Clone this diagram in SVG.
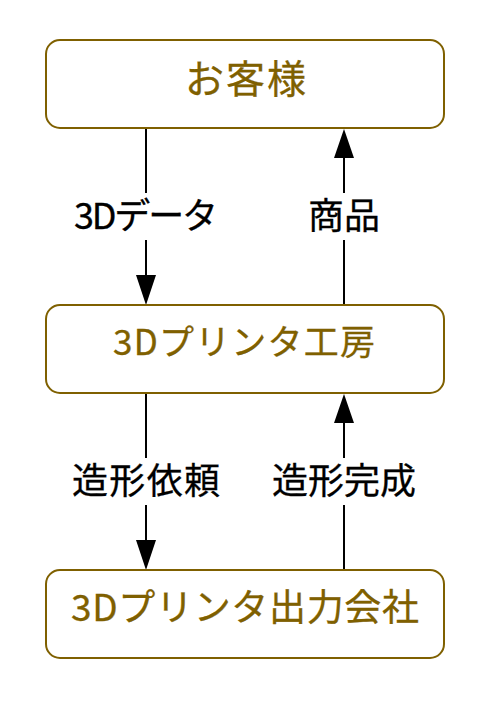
<svg xmlns="http://www.w3.org/2000/svg" width="500" height="710" viewBox="0 0 500 710">
<style>
.box{fill:#ffffff;stroke:#7f6000;stroke-width:2}
.nt{font-family:"Noto Sans CJK JP","Noto Sans",sans-serif;font-size:36px;fill:#7f6000;stroke:#7f6000;stroke-width:0.3;text-anchor:middle}
.lt{font-family:"Noto Sans CJK JP","Noto Sans",sans-serif;font-size:36px;fill:#000000;stroke:#000000;stroke-width:0.3;text-anchor:middle}
.ln{stroke:#000000;stroke-width:2;fill:none}
.ah{fill:#000000}
</style>
<rect width="500" height="710" fill="#ffffff"/>
<g id="connectors">
<line class="ln" x1="146" y1="129" x2="146" y2="193"/>
<line class="ln" x1="146" y1="240" x2="146" y2="276"/>
<polygon class="ah" points="136,275 156,275 146,305"/>
<line class="ln" x1="344" y1="305" x2="344" y2="240"/>
<line class="ln" x1="344" y1="193" x2="344" y2="157"/>
<polygon class="ah" points="334,158 354,158 344,129"/>
<line class="ln" x1="146" y1="394" x2="146" y2="458"/>
<line class="ln" x1="146" y1="505" x2="146" y2="541"/>
<polygon class="ah" points="136,540 156,540 146,570"/>
<line class="ln" x1="344" y1="570" x2="344" y2="505"/>
<line class="ln" x1="344" y1="458" x2="344" y2="422"/>
<polygon class="ah" points="334,423 354,423 344,394"/>
<text class="lt" x="146" y="229" textLength="144">3Dデータ</text>
<text class="lt" x="344" y="229" textLength="72">商品</text>
<text class="lt" x="146" y="494" textLength="148">造形依頼</text>
<text class="lt" x="344" y="494" textLength="144">造形完成</text>
</g>
<g id="node-customer">
<rect class="box" x="46" y="40" width="398" height="88" rx="14"/>
<text class="nt" x="245.5" y="93" style="font-size:39px" textLength="121">お客様</text>
</g>
<g id="node-workshop">
<rect class="box" x="46" y="305" width="398" height="88" rx="14"/>
<text class="nt" x="244" y="355" style="font-size:35px" textLength="262">3Dプリンタ工房</text>
</g>
<g id="node-output">
<rect class="box" x="46" y="570" width="398" height="88" rx="14"/>
<text class="nt" x="245" y="621" style="font-size:37px" textLength="348">3Dプリンタ出力会社</text>
</g>
</svg>
